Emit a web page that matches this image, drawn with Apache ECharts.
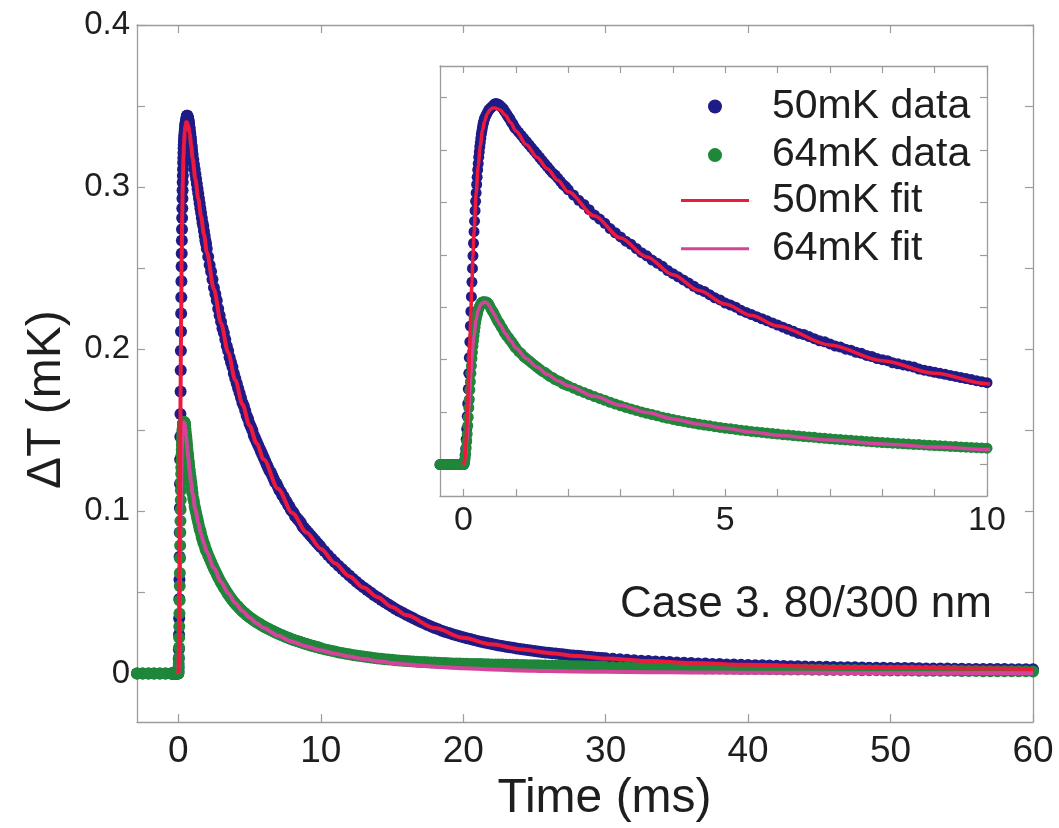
<!DOCTYPE html>
<html>
<head>
<meta charset="utf-8">
<script src="https://cdn.jsdelivr.net/npm/echarts@6/dist/echarts.min.js"></script>
<style>
html,body{margin:0;padding:0;background:#fff;}
#chart{width:1059px;height:828px;}
</style>
</head>
<body>
<div id="chart"></div>
<script>
// ---- data (time in ms, ΔT in mK) ----
const timeMs = [
-2.9,-2.5,-2.1,-1.7,-1.3,-0.9,-0.5,
-0.45,-0.4,-0.35,-0.3,-0.25,-0.2,-0.15,-0.1,-0.05,0,
0.01,0.02,0.03,0.04,0.05,0.06,0.07,0.08,0.09,0.10,
0.11,0.12,0.13,0.14,0.15,0.16,0.17,0.18,0.19,0.20,
0.21,0.22,0.23,0.24,0.25,0.26,0.27,0.28,0.29,0.30,
0.31,0.32,0.33,0.34,0.35,0.36,0.37,0.38,0.39,0.40,
0.42,0.44,0.46,0.48,0.50,0.52,0.54,0.56,0.58,0.60,
0.62,0.64,0.66,0.68,0.70,0.72,0.74,0.76,0.78,0.80,
0.82,0.84,0.86,0.88,0.90,0.92,0.94,0.96,0.98,1.00,
1.05,1.10,1.15,1.20,1.25,1.30,1.35,1.40,1.45,1.50,
1.55,1.60,1.65,1.70,1.75,1.80,1.85,1.90,1.95,2.00,
2.1,2.2,2.3,2.4,2.5,2.6,2.7,2.8,2.9,3.0,
3.1,3.2,3.3,3.4,3.5,3.6,3.7,3.8,3.9,4.0,
4.1,4.2,4.3,4.4,4.5,4.6,4.7,4.8,4.9,5.0,
5.1,5.2,5.3,5.4,5.5,5.6,5.7,5.8,5.9,6.0,
6.1,6.2,6.3,6.4,6.5,6.6,6.7,6.8,6.9,7.0,
7.1,7.2,7.3,7.4,7.5,7.6,7.7,7.8,7.9,8.0,
8.1,8.2,8.3,8.4,8.5,8.6,8.7,8.8,8.9,9.0,
9.1,9.2,9.3,9.4,9.5,9.6,9.7,9.8,9.9,10.0,
10.25,10.5,10.75,11,11.25,11.5,11.75,12,12.25,12.5,
12.75,13,13.25,13.5,13.75,14,14.25,14.5,14.75,15,
15.25,15.5,15.75,16,16.25,16.5,16.75,17,17.25,17.5,
17.75,18,18.25,18.5,18.75,19,19.25,19.5,19.75,20,
20.25,20.5,20.75,21,21.25,21.5,21.75,22,22.25,22.5,
22.75,23,23.25,23.5,23.75,24,24.25,24.5,24.75,25,
25.25,25.5,25.75,26,26.25,26.5,26.75,27,27.25,27.5,
27.75,28,28.25,28.5,28.75,29,29.25,29.5,29.75,30,
30.5,31,31.5,32,32.5,33,33.5,34,34.5,35,
35.5,36,36.5,37,37.5,38,38.5,39,39.5,40,
40.5,41,41.5,42,42.5,43,43.5,44,44.5,45,
45.5,46,46.5,47,47.5,48,48.5,49,49.5,50,
50.5,51,51.5,52,52.5,53,53.5,54,54.5,55,
55.5,56,56.5,57,57.5,58,58.5,59,59.5,60
];

const dT50mK = [
0,0,0,0,0,0,0,
0,0,0,0,0,0,0,0,0,0,
0.001,0.004,0.009,0.015,0.024,0.034,0.046,0.058,0.072,0.087,
0.102,0.117,0.132,0.146,0.160,0.174,0.187,0.199,0.211,0.222,
0.232,0.242,0.251,0.259,0.267,0.274,0.281,0.287,0.293,0.298,
0.303,0.307,0.311,0.315,0.318,0.321,0.324,0.326,0.328,0.330,
0.332,0.334,0.336,0.338,0.339,0.340,0.341,0.342,0.343,0.344,
0.344,0.344,0.343,0.343,0.342,0.341,0.340,0.339,0.337,0.336,
0.334,0.333,0.331,0.330,0.328,0.326,0.325,0.323,0.321,0.320,
0.317,0.314,0.311,0.308,0.305,0.302,0.299,0.296,0.293,0.290,
0.287,0.284,0.281,0.278,0.276,0.273,0.270,0.267,0.265,0.262,
0.257,0.252,0.248,0.243,0.238,0.234,0.230,0.225,0.221,0.217,
0.213,0.210,0.206,0.202,0.199,0.195,0.192,0.189,0.185,0.182,
0.179,0.176,0.173,0.170,0.167,0.165,0.162,0.159,0.157,0.154,
0.152,0.150,0.147,0.145,0.143,0.141,0.139,0.137,0.135,0.133,
0.131,0.129,0.127,0.125,0.124,0.122,0.120,0.118,0.117,0.115,
0.113,0.112,0.110,0.109,0.107,0.106,0.104,0.103,0.101,0.100,
0.099,0.097,0.096,0.095,0.094,0.093,0.091,0.090,0.089,0.088,
0.087,0.086,0.085,0.084,0.083,0.082,0.081,0.080,0.079,0.078,
0.0755,0.0731,0.0708,0.0686,0.0665,0.0644,0.0624,0.0604,0.0585,0.0566,
0.0548,0.0531,0.0515,0.0499,0.0483,0.0468,0.0453,0.0439,0.0425,0.0411,
0.0398,0.0386,0.0374,0.0362,0.0351,0.0340,0.0329,0.0319,0.0309,0.0299,
0.0289,0.0280,0.0272,0.0264,0.0256,0.0249,0.0242,0.0236,0.0229,0.0223,
0.0217,0.0212,0.0206,0.0201,0.0196,0.0191,0.0186,0.0182,0.0177,0.0173,
0.0169,0.0165,0.0161,0.0158,0.0154,0.0151,0.0148,0.0145,0.0142,0.0139,
0.0136,0.0133,0.0130,0.0128,0.0125,0.0123,0.0120,0.0118,0.0115,0.0113,
0.0111,0.0109,0.0107,0.0105,0.0103,0.0101,0.0099,0.0097,0.0095,0.0094,
0.0091,0.0088,0.0085,0.0082,0.0079,0.0077,0.0074,0.0072,0.0070,0.0068,
0.0066,0.0064,0.0062,0.0061,0.0059,0.0058,0.0056,0.0055,0.0053,0.0052,
0.0051,0.0050,0.0049,0.0047,0.0046,0.0045,0.0044,0.0043,0.0042,0.0041,
0.0041,0.0040,0.0039,0.0038,0.0038,0.0037,0.0036,0.0036,0.0035,0.0034,
0.0034,0.0033,0.0033,0.0032,0.0031,0.0031,0.0030,0.0030,0.0029,0.0029,
0.0028,0.0028,0.0028,0.0027,0.0027,0.0027,0.0026,0.0026,0.0026,0.0026
];

const dT64mK = [
0,0,0,0,0,0,0,
0,0,0,0,0,0,0,0,0,0,
0.001,0.003,0.006,0.010,0.016,0.022,0.029,0.037,0.045,0.054,
0.062,0.071,0.079,0.087,0.094,0.101,0.107,0.113,0.118,0.123,
0.127,0.131,0.135,0.138,0.141,0.143,0.145,0.147,0.149,0.150,
0.151,0.152,0.153,0.154,0.154,0.155,0.155,0.155,0.155,0.155,
0.155,0.155,0.154,0.153,0.151,0.149,0.147,0.146,0.144,0.142,
0.140,0.138,0.136,0.135,0.133,0.131,0.130,0.128,0.126,0.125,
0.123,0.122,0.121,0.119,0.118,0.117,0.115,0.114,0.112,0.111,
0.108,0.106,0.103,0.101,0.099,0.097,0.095,0.093,0.091,0.089,
0.088,0.086,0.084,0.083,0.081,0.080,0.079,0.077,0.076,0.075,
0.0728,0.0707,0.0687,0.0667,0.0648,0.0630,0.0612,0.0594,0.0577,0.0560,
0.0545,0.0530,0.0516,0.0502,0.0488,0.0476,0.0464,0.0452,0.0441,0.0430,
0.0420,0.0411,0.0402,0.0393,0.0384,0.0376,0.0369,0.0361,0.0354,0.0347,
0.0341,0.0335,0.0328,0.0322,0.0316,0.0311,0.0306,0.0300,0.0295,0.0290,
0.0285,0.0281,0.0276,0.0272,0.0267,0.0263,0.0259,0.0254,0.0250,0.0246,
0.0242,0.0238,0.0235,0.0231,0.0227,0.0224,0.0220,0.0217,0.0213,0.0210,
0.0207,0.0204,0.0201,0.0198,0.0195,0.0192,0.0190,0.0187,0.0184,0.0181,
0.0178,0.0176,0.0173,0.0171,0.0168,0.0166,0.0163,0.0161,0.0158,0.0156,
0.0150,0.0145,0.0140,0.0135,0.0130,0.0126,0.0122,0.0118,0.0114,0.0111,
0.0107,0.0104,0.0101,0.0098,0.0095,0.0093,0.0090,0.0088,0.0086,0.0084,
0.0082,0.0080,0.0078,0.0077,0.0075,0.0074,0.0072,0.0071,0.0070,0.0069,
0.0068,0.0067,0.0066,0.0065,0.0064,0.0063,0.0062,0.0062,0.0061,0.0060,
0.0060,0.0059,0.0059,0.0058,0.0058,0.0057,0.0057,0.0056,0.0056,0.0055,
0.0055,0.0054,0.0054,0.0053,0.0053,0.0052,0.0052,0.0051,0.0051,0.0050,
0.0050,0.0049,0.0049,0.0048,0.0048,0.0047,0.0047,0.0046,0.0046,0.0045,
0.0045,0.0044,0.0044,0.0043,0.0043,0.0042,0.0042,0.0041,0.0041,0.0040,
0.0039,0.0039,0.0038,0.0037,0.0037,0.0036,0.0035,0.0035,0.0034,0.0033,
0.0033,0.0032,0.0032,0.0031,0.0030,0.0030,0.0029,0.0029,0.0028,0.0028,
0.0027,0.0027,0.0026,0.0026,0.0025,0.0025,0.0024,0.0024,0.0023,0.0023,
0.0022,0.0022,0.0022,0.0021,0.0021,0.0020,0.0020,0.0020,0.0019,0.0019,
0.0018,0.0018,0.0018,0.0017,0.0017,0.0017,0.0016,0.0016,0.0016,0.0015,
0.0015,0.0015,0.0014,0.0014,0.0014,0.0013,0.0013,0.0013,0.0013,0.0012
];

const fitTimeMs = [0,0.02,0.04,0.06,0.08,0.1,0.12,0.14,0.16,0.18,0.2,0.24,0.28,0.32,0.36,0.4,0.45,0.5,0.55,0.6,0.65,0.7,0.8,0.9,1,1.2,1.4,1.6,1.8,2,2.5,3,3.5,4,4.5,5,5.5,6,7,8,9,10,11,12,13,14,15,16,18,20,22,24,26,28,30,33,36,40,45,50,55,60];
const fit50mK = [0,0.004,0.015,0.034,0.058,0.087,0.117,0.146,0.174,0.199,0.222,0.258,0.285,0.304,0.318,0.327,0.334,0.338,0.340,0.340,0.339,0.338,0.333,0.326,0.318,0.305,0.293,0.282,0.271,0.260,0.237,0.216,0.198,0.181,0.166,0.153,0.142,0.132,0.114,0.099,0.087,0.077,0.068,0.060,0.053,0.047,0.041,0.036,0.028,0.022,0.018,0.015,0.0127,0.0108,0.0093,0.0077,0.0065,0.0053,0.0042,0.0035,0.0031,0.0028];
const fit64mK = [0,0.003,0.010,0.022,0.037,0.054,0.071,0.087,0.101,0.113,0.123,0.138,0.147,0.152,0.154,0.155,0.154,0.151,0.146,0.142,0.137,0.133,0.125,0.118,0.111,0.101,0.093,0.086,0.080,0.075,0.065,0.0565,0.0495,0.0435,0.0385,0.0345,0.031,0.028,0.0233,0.0196,0.0167,0.0143,0.0122,0.0104,0.0089,0.0076,0.0065,0.0056,0.0042,0.0032,0.0025,0.0019,0.0015,0.0012,0.001,0.0008,0.0006,0.0005,0.0004,0.0003,0.0003,0.0002];

const seriesNames = ['50mK data','64mK data','50mK fit','64mK fit'];
const annotation = 'Case 3. 80/300 nm';

// axis ticks / labels
const mainXTicks = [0,10,20,30,40,50,60];
const mainYTicks = [0,0.05,0.1,0.15,0.2,0.25,0.3,0.35,0.4];
const mainYLabels = [0,0.1,0.2,0.3,0.4];
const insetXTicks = [0,1,2,3,4,5,6,7,8,9,10];
const insetXLabels = [0,5,10];
const insetYTicks = [0,0.05,0.1,0.15,0.2,0.25,0.3,0.35];

// ---- build ----
const pairs = (xs, ys) => xs.map((x, i) => [x, ys[i]]);
const data50 = pairs(timeMs, dT50mK);
const data64 = pairs(timeMs, dT64mK);
const f50 = pairs(fitTimeMs, fit50mK);
const f64 = pairs(fitTimeMs, fit64mK);

const FONT = '"Liberation Sans", Arial, Helvetica, sans-serif';
const AX = '#9c9c9c';
const TXT = '#1e1e1e';
const C50 = '#1f1b87';
const C64 = '#1e873a';
const CF50 = '#ee1a3c';
const CF64 = '#d4449c';

function axisBase(extra) {
  return Object.assign({
    type: 'value',
    splitLine: { show: false },
    axisLine: { show: true, onZero: false, lineStyle: { color: AX, width: 1.3 } },
    axisTick: { show: true, inside: true, length: 8, lineStyle: { color: AX, width: 1.2 } },
    axisLabel: { show: false }
  }, extra);
}

const chart = echarts.init(document.getElementById('chart'), null, { renderer: 'canvas' });

const legendText = { fontFamily: FONT, fontSize: 41, color: TXT, lineHeight: 40, padding: [0, 0, 0, 18] };

const option = {
  animation: false,
  backgroundColor: '#ffffff',
  textStyle: { fontFamily: FONT },
  title: {
    text: annotation, left: 620, top: 583, padding: 0, z: 20,
    textStyle: { fontFamily: FONT, fontSize: 44, fontWeight: 'normal', color: TXT }
  },
  legend: [
    {
      data: [seriesNames[0], seriesNames[1]], orient: 'vertical', left: 708, top: 86,
      padding: 0, itemGap: 7.6, itemWidth: 68, itemHeight: 14, icon: 'circle',
      selectedMode: false, z: 20, textStyle: legendText
    },
    {
      data: [seriesNames[2], seriesNames[3]], orient: 'vertical', left: 681, top: 180,
      padding: 0, itemGap: 7.3, itemWidth: 68, itemHeight: 3, icon: 'rect',
      selectedMode: false, z: 20, textStyle: legendText
    }
  ],
  grid: [
    { left: 137, right: 26, top: 25, bottom: 95, show: false },
    { left: 440, right: 72, top: 66, bottom: 332, show: true, backgroundColor: '#ffffff', borderWidth: 0, z: 5 }
  ],
  xAxis: [
    axisBase({
      gridIndex: 0, min: -2.9, max: 60, position: 'bottom',
      axisTick: { show: true, inside: true, length: 8, customValues: mainXTicks, lineStyle: { color: AX, width: 1.2 } },
      axisLabel: { show: true, customValues: mainXTicks, fontSize: 37, color: TXT, margin: 11, fontFamily: FONT },
      name: 'Time (ms)', nameLocation: 'middle', nameGap: 42,
      nameTextStyle: { fontSize: 48, color: TXT, fontFamily: FONT, padding: [0, 0, 0, 39] }
    }),
    axisBase({
      gridIndex: 0, min: -2.9, max: 60, position: 'top',
      axisTick: { show: true, inside: true, length: 8, customValues: mainXTicks, lineStyle: { color: AX, width: 1.2 } }
    }),
    axisBase({
      gridIndex: 1, min: -0.45, max: 10, position: 'bottom', z: 6,
      axisTick: { show: true, inside: true, length: 7, customValues: insetXTicks, lineStyle: { color: AX, width: 1.2 } },
      axisLabel: { show: true, customValues: insetXLabels, fontSize: 34, color: TXT, margin: 8, fontFamily: FONT }
    }),
    axisBase({
      gridIndex: 1, min: -0.45, max: 10, position: 'top', z: 6,
      axisTick: { show: true, inside: true, length: 7, customValues: insetXTicks, lineStyle: { color: AX, width: 1.2 } }
    })
  ],
  yAxis: [
    axisBase({
      gridIndex: 0, min: -0.03, max: 0.4, position: 'left',
      axisTick: { show: true, inside: true, length: 8, customValues: mainYTicks, lineStyle: { color: AX, width: 1.2 } },
      axisLabel: { show: true, customValues: mainYLabels, fontSize: 33, color: TXT, margin: 7, fontFamily: FONT },
      name: 'ΔT (mK)', nameLocation: 'middle', nameGap: 66,
      nameTextStyle: { fontSize: 48, color: TXT, fontFamily: FONT, padding: [0, 52, 0, 0] }
    }),
    axisBase({
      gridIndex: 0, min: -0.03, max: 0.4, position: 'right',
      axisTick: { show: true, inside: true, length: 8, customValues: mainYTicks, lineStyle: { color: AX, width: 1.2 } }
    }),
    axisBase({
      gridIndex: 1, min: -0.03, max: 0.38, position: 'left', z: 6,
      axisTick: { show: true, inside: true, length: 7, customValues: insetYTicks, lineStyle: { color: AX, width: 1.2 } }
    }),
    axisBase({
      gridIndex: 1, min: -0.03, max: 0.38, position: 'right', z: 6,
      axisTick: { show: true, inside: true, length: 7, customValues: insetYTicks, lineStyle: { color: AX, width: 1.2 } }
    })
  ],
  series: [
    // main plot
    { name: seriesNames[0], type: 'scatter', xAxisIndex: 0, yAxisIndex: 0, data: data50, symbol: 'circle', symbolSize: 12, itemStyle: { color: C50, opacity: 1 }, z: 2 },
    { name: seriesNames[1], type: 'scatter', xAxisIndex: 0, yAxisIndex: 0, data: data64, symbol: 'circle', symbolSize: 12, itemStyle: { color: C64, opacity: 1 }, z: 2 },
    { name: seriesNames[3], type: 'line', xAxisIndex: 0, yAxisIndex: 0, data: f64, showSymbol: false, smooth: 0.3, smoothMonotone: 'x', itemStyle: { color: CF64 }, lineStyle: { color: CF64, width: 4 }, z: 3 },
    { name: seriesNames[2], type: 'line', xAxisIndex: 0, yAxisIndex: 0, data: f50, showSymbol: false, smooth: 0.3, smoothMonotone: 'x', itemStyle: { color: CF50 }, lineStyle: { color: CF50, width: 4 }, z: 3 },
    // inset
    { name: seriesNames[0], type: 'scatter', xAxisIndex: 2, yAxisIndex: 2, data: data50, symbol: 'circle', symbolSize: 11, itemStyle: { color: C50, opacity: 1 }, z: 10 },
    { name: seriesNames[1], type: 'scatter', xAxisIndex: 2, yAxisIndex: 2, data: data64, symbol: 'circle', symbolSize: 11, itemStyle: { color: C64, opacity: 1 }, z: 10 },
    { name: seriesNames[3], type: 'line', xAxisIndex: 2, yAxisIndex: 2, data: f64, showSymbol: false, smooth: 0.3, smoothMonotone: 'x', itemStyle: { color: CF64 }, lineStyle: { color: CF64, width: 3.5 }, z: 11 },
    { name: seriesNames[2], type: 'line', xAxisIndex: 2, yAxisIndex: 2, data: f50, showSymbol: false, smooth: 0.3, smoothMonotone: 'x', itemStyle: { color: CF50 }, lineStyle: { color: CF50, width: 3.5 }, z: 11 }
  ]
};

chart.setOption(option);
</script>
</body>
</html>
